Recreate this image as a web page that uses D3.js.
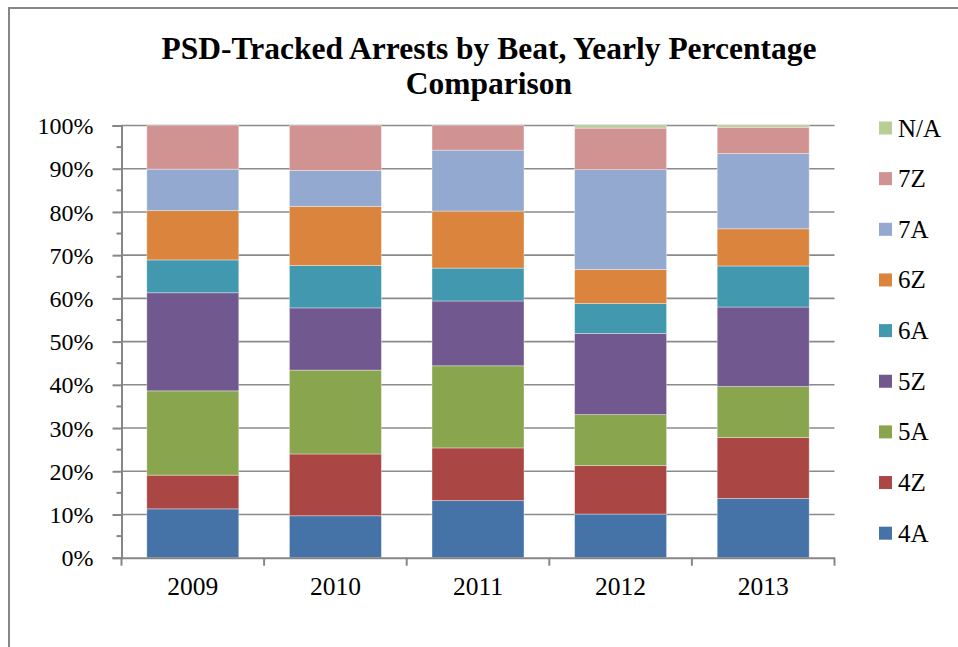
<!DOCTYPE html>
<html>
<head>
<meta charset="utf-8">
<script src="https://cdn.jsdelivr.net/npm/d3@7"></script>
<style>
  html, body { margin: 0; padding: 0; background: #fff; }
  svg { display: block; }
  text { font-family: "Liberation Serif", "Times New Roman", serif; fill: #000; }
</style>
</head>
<body>
<svg id="chart" width="958" height="647"></svg>
<script>
// Years on the x axis
const years = ["2009", "2010", "2011", "2012", "2013"];
// Beats, bottom of the stack first
const beats = ["4A", "4Z", "5A", "5Z", "6A", "6Z", "7A", "7Z", "N/A"];
// Share of arrests per beat (percent), one value per year
const beat4A = [11.3, 9.7, 13.2, 10.1, 13.7];
const beat4Z = [7.8, 14.3, 12.2, 11.2, 14.1];
const beat5A = [19.5, 19.4, 19.0, 11.8, 11.8];
const beat5Z = [22.7, 14.4, 15.0, 18.8, 18.4];
const beat6A = [7.6, 9.8, 7.6, 6.9, 9.5];
const beat6Z = [11.4, 13.7, 13.2, 7.9, 8.6];
const beat7A = [9.6, 8.3, 14.1, 23.1, 17.4];
const beat7Z = [10.1, 10.4, 5.7, 9.6, 6.1];
const beatNA = [0.0, 0.0, 0.0, 0.6, 0.5];
const yTicks = [0, 10, 20, 30, 40, 50, 60, 70, 80, 90, 100];

const seriesValues = [beat4A, beat4Z, beat5A, beat5Z, beat6A, beat6Z, beat7A, beat7Z, beatNA];
const colors = ["#4572A7", "#AA4643", "#89A54E", "#71588F", "#4198AF", "#DB843D", "#93A9CF", "#D19392", "#B9CD96"];

const svg = d3.select("#chart");

// Outer frame (top and left edges)
svg.append("path")
  .attr("d", "M9,647 V8 H958")
  .attr("fill", "none")
  .attr("stroke", "#878787")
  .attr("stroke-width", 2);

// Title
const title = svg.append("text")
  .attr("text-anchor", "middle")
  .attr("font-weight", "bold")
  .attr("font-size", 31.5);
title.append("tspan").attr("x", 489).attr("y", 59).text("PSD-Tracked Arrests by Beat, Yearly Percentage");
title.append("tspan").attr("x", 489).attr("y", 94).text("Comparison");

const plot = { left: 121.5, right: 834.5, top: 125.5, bottom: 557.7 };

const x = d3.scaleBand().domain(years).range([plot.left, plot.right]).paddingInner(0.355).paddingOuter(0.1775);
const y = d3.scaleLinear().domain([0, 100]).range([plot.bottom, plot.top]);

// Horizontal gridlines
svg.append("g")
  .selectAll("line")
  .data(yTicks.filter(t => t > 0))
  .join("line")
  .attr("x1", plot.left).attr("x2", plot.right)
  .attr("y1", d => y(d)).attr("y2", d => y(d))
  .attr("stroke", "#8a8a8a")
  .attr("stroke-width", 1.6);

// Stacked data
const rows = years.map((yr, i) => {
  const r = { year: yr };
  beats.forEach((b, j) => { r[b] = seriesValues[j][i]; });
  return r;
});
const stacked = d3.stack().keys(beats)(rows);

svg.append("g")
  .selectAll("g")
  .data(stacked)
  .join("g")
  .attr("fill", (d, i) => colors[i])
  .selectAll("rect")
  .data(d => d)
  .join("rect")
  .attr("x", d => x(d.data.year))
  .attr("width", x.bandwidth())
  .attr("y", d => y(d[1]))
  .attr("height", d => Math.max(0, y(d[0]) - y(d[1])))
  .attr("stroke", "#ffffff")
  .attr("stroke-opacity", 0.45)
  .attr("stroke-width", 0.8);

// Y axis
const yAxis = d3.axisLeft(y)
  .tickValues(yTicks)
  .tickSize(9)
  .tickPadding(19)
  .tickFormat(d => d + "%");
const gy = svg.append("g").attr("transform", `translate(${plot.left},0)`).call(yAxis);
gy.select(".domain").attr("stroke", "#868686").attr("stroke-width", 2);
gy.selectAll(".tick line").attr("stroke", "#868686").attr("stroke-width", 2);
gy.selectAll(".tick text").attr("font-size", 24).attr("font-family", "Liberation Serif, serif").attr("dy", "0.34em");

// Minor ticks between the percentage labels
svg.append("g")
  .selectAll("line")
  .data(d3.range(5, 100, 10))
  .join("line")
  .attr("x1", plot.left - 5).attr("x2", plot.left)
  .attr("y1", d => y(d)).attr("y2", d => y(d))
  .attr("stroke", "#868686")
  .attr("stroke-width", 2);

// X axis
const xAxis = d3.axisBottom(x).tickSize(0).tickPadding(19);
const gx = svg.append("g").attr("transform", `translate(0,${plot.bottom})`).call(xAxis);
gx.select(".domain").attr("stroke", "#868686").attr("stroke-width", 2);
gx.selectAll(".tick text").attr("font-size", 25.5).attr("font-family", "Liberation Serif, serif");

// Category boundary ticks
const step = x.step();
svg.append("g")
  .selectAll("line")
  .data(d3.range(years.length + 1))
  .join("line")
  .attr("x1", i => plot.left + i * step).attr("x2", i => plot.left + i * step)
  .attr("y1", plot.bottom).attr("y2", plot.bottom + 8)
  .attr("stroke", "#868686")
  .attr("stroke-width", 2);

// Legend, top entry is the last series
const legendItems = beats.slice().reverse();
const legend = svg.append("g")
  .selectAll("g")
  .data(legendItems)
  .join("g")
  .attr("transform", (d, i) => `translate(879,${128 + i * 50.65})`);
legend.append("rect")
  .attr("x", 0).attr("y", -6.5)
  .attr("width", 13).attr("height", 13)
  .attr("fill", d => colors[beats.indexOf(d)]);
legend.append("text")
  .attr("x", 19).attr("y", 0)
  .attr("dy", "0.34em")
  .attr("font-size", 25)
  .text(d => d);
</script>
</body>
</html>
